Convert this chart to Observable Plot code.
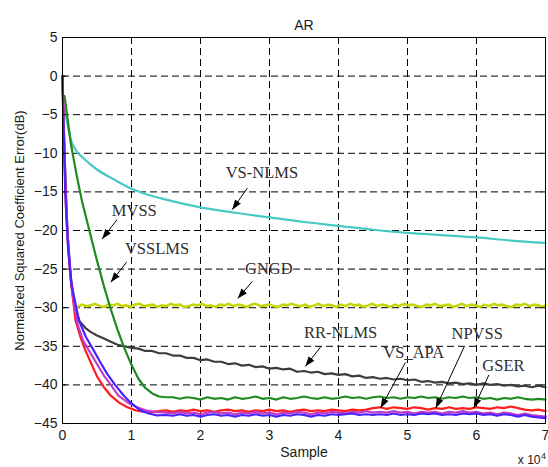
<!DOCTYPE html>
<html>
<head>
<meta charset="utf-8">
<script src="https://cdn.jsdelivr.net/npm/d3@7"></script>
<script src="https://cdn.jsdelivr.net/npm/@observablehq/plot@0.6"></script>
<style>
  html, body { margin: 0; padding: 0; background: #ffffff; }
</style>
</head>
<body>
<div id="chart"></div>
<script>
// ---- tick values ----
const xTicks = [0, 1, 2, 3, 4, 5, 6, 7];
const yTicks = [5, 0, -5, -10, -15, -20, -25, -30, -35, -40, -45];

// ---- series: [sample (x 10^4), NSCE (dB)] ----
const vsNlms = [[0.04,-4.5],[0.08,-6.6],[0.12,-8.2],[0.2,-9.7],[0.3,-10.6],[0.4,-11.4],[0.5,-12.1],[0.75,-13.4],[1.0,-14.6],[1.25,-15.4],[1.5,-16.0],[2.0,-17.0],[2.5,-17.7],[3.0,-18.3],[3.5,-18.9],[4.0,-19.4],[4.5,-19.9],[5.0,-20.3],[5.5,-20.6],[6.0,-20.9],[6.5,-21.3],[7.0,-21.6]];

const gngd = [[0.22,-29.9],[0.28,-29.6],[0.35,-29.8],[0.41,-29.7],[0.47,-29.5],[0.55,-29.8],[0.61,-29.9],[0.66,-29.6],[0.74,-29.7],[0.8,-29.5],[0.86,-29.8],[0.93,-29.7],[0.99,-29.9],[1.05,-29.6],[1.12,-29.5],[1.18,-29.8],[1.25,-29.7],[1.31,-29.6],[1.37,-29.9],[1.44,-29.7],[1.5,-29.8],[1.57,-29.5],[1.63,-29.7],[1.7,-29.6],[1.76,-29.9],[1.83,-29.8],[1.89,-29.6],[1.96,-29.7],[2.02,-29.5],[2.09,-29.8],[2.15,-29.7],[2.22,-29.9],[2.28,-29.6],[2.35,-29.7],[2.41,-29.5],[2.48,-29.8],[2.54,-29.6],[2.61,-29.7],[2.67,-29.9],[2.74,-29.6],[2.8,-29.5],[2.87,-29.8],[2.93,-29.7],[3.0,-29.6],[3.06,-29.8],[3.13,-29.9],[3.19,-29.6],[3.26,-29.7],[3.32,-29.5],[3.39,-29.7],[3.45,-29.8],[3.52,-29.6],[3.58,-29.9],[3.65,-29.7],[3.71,-29.5],[3.78,-29.8],[3.84,-29.6],[3.91,-29.7],[3.97,-29.9],[4.04,-29.6],[4.1,-29.8],[4.17,-29.5],[4.23,-29.7],[4.3,-29.6],[4.36,-29.9],[4.43,-29.7],[4.49,-29.5],[4.56,-29.8],[4.62,-29.6],[4.69,-29.7],[4.75,-29.9],[4.82,-29.6],[4.88,-29.8],[4.95,-29.5],[5.01,-29.7],[5.08,-29.6],[5.14,-29.8],[5.21,-29.9],[5.27,-29.6],[5.34,-29.7],[5.4,-29.5],[5.47,-29.8],[5.53,-29.7],[5.6,-29.6],[5.66,-29.9],[5.73,-29.7],[5.79,-29.5],[5.86,-29.8],[5.92,-29.6],[5.99,-29.7],[6.05,-29.9],[6.12,-29.6],[6.18,-29.8],[6.25,-29.5],[6.31,-29.7],[6.38,-29.6],[6.44,-29.8],[6.51,-29.9],[6.57,-29.6],[6.64,-29.7],[6.7,-29.5],[6.77,-29.8],[6.83,-29.6],[6.9,-29.7],[6.96,-29.9],[7.0,-29.7]];

const rrNlms = [[0,0],[0.03,-10],[0.07,-20],[0.12,-26],[0.18,-30],[0.25,-31.8],[0.33,-32.6],[0.4,-33.1],[0.5,-33.6],[0.6,-34.0],[0.7,-34.4],[0.8,-34.8],[0.9,-35.0],[1.0,-35.2],[1.1,-35.3],[1.2,-35.6],[1.3,-35.6],[1.4,-35.9],[1.5,-35.9],[1.6,-36.2],[1.7,-36.2],[1.8,-36.5],[1.9,-36.5],[2.0,-36.8],[2.1,-36.7],[2.2,-37.0],[2.3,-37.0],[2.4,-37.3],[2.5,-37.2],[2.6,-37.5],[2.7,-37.4],[2.8,-37.7],[2.9,-37.6],[3.0,-37.9],[3.1,-37.8],[3.2,-38.0],[3.3,-37.9],[3.4,-38.3],[3.5,-38.2],[3.6,-38.4],[3.7,-38.3],[3.8,-38.6],[3.9,-38.5],[4.0,-38.7],[4.1,-38.6],[4.2,-38.9],[4.3,-38.8],[4.4,-39.1],[4.5,-39.0],[4.6,-39.2],[4.7,-39.1],[4.8,-39.3],[4.9,-39.2],[5.0,-39.4],[5.1,-39.3],[5.2,-39.6],[5.3,-39.5],[5.4,-39.7],[5.5,-39.6],[5.6,-39.8],[5.7,-39.7],[5.8,-39.9],[5.9,-39.8],[6.0,-40.0],[6.1,-39.8],[6.2,-40.0],[6.3,-39.9],[6.4,-40.1],[6.5,-40.0],[6.6,-40.2],[6.7,-40.1],[6.8,-40.3],[6.9,-40.1],[7.0,-40.3]];

const mvss = [[0.03,-2.6],[0.06,-4.6],[0.12,-8.7],[0.2,-12.6],[0.28,-16.1],[0.4,-20.4],[0.5,-23.9],[0.6,-27.2],[0.7,-30.2],[0.8,-32.9],[0.89,-35.1],[1.0,-37.4],[1.1,-39.2],[1.2,-40.4],[1.3,-41.1],[1.4,-41.5],[1.5,-41.6],[1.6,-41.6],[1.7,-41.8],[1.8,-41.6],[1.9,-41.7],[2.0,-41.9],[2.1,-41.6],[2.2,-41.8],[2.3,-41.7],[2.4,-41.9],[2.5,-41.6],[2.6,-41.8],[2.7,-41.7],[2.8,-41.5],[2.9,-41.8],[3.0,-41.7],[3.1,-41.9],[3.2,-41.6],[3.3,-41.8],[3.4,-41.7],[3.5,-41.5],[3.6,-41.7],[3.7,-41.8],[3.8,-41.6],[3.9,-41.8],[4.0,-41.7],[4.1,-41.5],[4.2,-41.7],[4.3,-41.6],[4.4,-41.8],[4.5,-41.6],[4.6,-41.5],[4.7,-41.7],[4.8,-41.6],[4.9,-41.8],[5.0,-41.6],[5.1,-41.7],[5.2,-41.5],[5.3,-41.7],[5.4,-41.6],[5.5,-41.8],[5.6,-41.6],[5.7,-41.7],[5.8,-41.5],[5.9,-41.7],[6.0,-41.6],[6.1,-41.8],[6.2,-41.7],[6.3,-41.9],[6.4,-41.7],[6.5,-41.8],[6.6,-41.6],[6.7,-41.8],[6.8,-41.9],[6.9,-41.8],[7.0,-41.9]];

const redCurve = [[0,0],[0.02,-8],[0.05,-17],[0.08,-22],[0.12,-26.5],[0.19,-31.7],[0.26,-33.8],[0.33,-35.5],[0.4,-36.9],[0.5,-38.9],[0.6,-40.3],[0.7,-41.4],[0.82,-42.3],[0.94,-42.9],[1.06,-43.3],[1.18,-43.5],[1.3,-43.5],[1.4,-43.4],[1.5,-43.3],[1.6,-43.5],[1.7,-43.3],[1.8,-43.4],[1.9,-43.2],[2.0,-43.4],[2.1,-43.3],[2.2,-43.5],[2.3,-43.3],[2.4,-43.2],[2.5,-43.4],[2.6,-43.3],[2.7,-43.5],[2.8,-43.3],[2.9,-43.4],[3.0,-43.2],[3.1,-43.4],[3.2,-43.3],[3.3,-43.5],[3.4,-43.3],[3.5,-43.2],[3.6,-43.4],[3.7,-43.3],[3.8,-43.4],[3.9,-43.2],[4.0,-43.3],[4.1,-43.4],[4.2,-43.2],[4.3,-43.3],[4.4,-43.2],[4.5,-43.0],[4.6,-42.9],[4.7,-43.1],[4.8,-42.9],[4.9,-43.0],[5.0,-43.1],[5.1,-42.9],[5.2,-43.0],[5.3,-43.2],[5.4,-43.0],[5.5,-43.1],[5.6,-42.9],[5.7,-43.1],[5.8,-43.0],[5.9,-43.1],[6.0,-42.9],[6.1,-43.0],[6.2,-43.1],[6.3,-42.9],[6.4,-43.0],[6.5,-42.8],[6.6,-43.0],[6.7,-43.2],[6.8,-43.3],[6.9,-43.2],[7.0,-43.4]];

const magentaCurve = [[0,0],[0.02,-7],[0.05,-16],[0.09,-23],[0.14,-28],[0.22,-32.2],[0.3,-34.3],[0.38,-35.5],[0.5,-37.3],[0.6,-38.8],[0.7,-40.0],[0.81,-41.4],[0.95,-42.3],[1.08,-42.9],[1.2,-43.3],[1.35,-43.5],[1.5,-43.6],[1.6,-43.7],[1.7,-43.5],[1.8,-43.7],[1.9,-43.6],[2.0,-43.8],[2.1,-43.6],[2.2,-43.5],[2.3,-43.7],[2.4,-43.6],[2.5,-43.8],[2.6,-43.6],[2.7,-43.7],[2.8,-43.5],[2.9,-43.7],[3.0,-43.6],[3.1,-43.8],[3.2,-43.6],[3.3,-43.7],[3.4,-43.5],[3.5,-43.6],[3.6,-43.8],[3.7,-43.6],[3.8,-43.7],[3.9,-43.5],[4.0,-43.6],[4.1,-43.7],[4.2,-43.5],[4.3,-43.6],[4.4,-43.4],[4.5,-43.6],[4.6,-43.5],[4.7,-43.6],[4.8,-43.4],[4.9,-43.6],[5.0,-43.5],[5.1,-43.7],[5.2,-43.5],[5.3,-43.6],[5.4,-43.5],[5.5,-43.7],[5.6,-43.5],[5.7,-43.6],[5.8,-43.4],[5.9,-43.6],[6.0,-43.5],[6.1,-43.7],[6.2,-43.6],[6.3,-43.8],[6.4,-43.6],[6.5,-43.7],[6.6,-43.9],[6.7,-43.7],[6.8,-43.9],[6.9,-44.0],[7.0,-44.1]];

const blueCurve = [[0,0],[0.01,-5],[0.04,-15],[0.08,-22],[0.13,-27],[0.24,-31.7],[0.34,-33.8],[0.45,-35.5],[0.55,-37.1],[0.65,-38.6],[0.77,-40.1],[0.89,-41.4],[1.0,-42.4],[1.13,-43.3],[1.25,-43.7],[1.37,-43.95],[1.5,-43.9],[1.6,-44.0],[1.7,-43.8],[1.8,-44.0],[1.9,-43.9],[2.0,-44.1],[2.1,-43.9],[2.2,-43.8],[2.3,-44.0],[2.4,-43.9],[2.5,-44.1],[2.6,-43.9],[2.7,-44.0],[2.8,-43.8],[2.9,-44.0],[3.0,-43.9],[3.1,-44.1],[3.2,-43.9],[3.3,-44.0],[3.4,-43.8],[3.5,-43.9],[3.6,-44.1],[3.7,-43.9],[3.8,-44.0],[3.9,-43.8],[4.0,-43.9],[4.1,-43.8],[4.2,-43.7],[4.3,-43.9],[4.4,-43.8],[4.5,-43.9],[4.6,-43.8],[4.7,-43.9],[4.8,-43.7],[4.9,-43.9],[5.0,-43.8],[5.1,-43.9],[5.2,-43.7],[5.3,-43.8],[5.4,-43.7],[5.5,-43.9],[5.6,-43.8],[5.7,-43.9],[5.8,-43.7],[5.9,-43.8],[6.0,-43.7],[6.1,-43.9],[6.2,-43.8],[6.3,-44.0],[6.4,-43.8],[6.5,-43.9],[6.6,-44.1],[6.7,-43.9],[6.8,-44.1],[6.9,-44.2],[7.0,-44.3]];

// ---- annotation labels and arrows (tail -> tip) ----
const labelNames = ["VS-NLMS", "MVSS", "VSSLMS", "GNGD", "RR-NLMS", "VS_APA", "NPVSS", "GSER"];
const labelAt = [[2.89,-12.5],[1.04,-17.4],[1.37,-22.3],[2.99,-24.9],[4.03,-33.3],[5.09,-35.8],[6.01,-33.4],[6.39,-37.5]];
const arrowFrom = [[2.68,-14.5],[0.79,-18.6],[0.93,-24.1],[2.75,-26.6],[3.74,-35.1],[4.97,-37.1],[5.82,-35.1],[6.18,-38.7]];
const arrowTo = [[2.46,-17.3],[0.575,-21.1],[0.70,-26.7],[2.54,-28.8],[3.52,-37.6],[4.61,-43.0],[5.41,-43.0],[5.96,-43.0]];

const labels = labelNames.map((name, i) => ({name, x: labelAt[i][0], y: labelAt[i][1]}));
const arrows = labelNames.map((name, i) => ({x1: arrowFrom[i][0], y1: arrowFrom[i][1], x2: arrowTo[i][0], y2: arrowTo[i][1]}));

function arrowHead(color) {
  const m = d3.create("svg:marker")
    .attr("viewBox", "-10 -4 10 8")
    .attr("markerWidth", 10)
    .attr("markerHeight", 8)
    .attr("markerUnits", "userSpaceOnUse")
    .attr("orient", "auto")
    .attr("fill", "black")
    .attr("stroke", "none");
  m.append("path").attr("d", "M0,0L-10,-3.6L-10,3.6Z");
  return m.node();
}

const X = d => d[0], Y = d => d[1];
const sw = 2.2;

const chart = Plot.plot({
  width: 548,
  height: 467,
  marginTop: 37,
  marginBottom: 44,
  marginLeft: 62,
  marginRight: 3,
  style: {fontFamily: "'Liberation Sans', Arial, sans-serif", fontSize: "13px", background: "#ffffff", color: "#1a1a1a"},
  x: {domain: [0, 7]},
  y: {domain: [-45, 5]},
  marks: [
    Plot.gridX(xTicks, {stroke: "black", strokeOpacity: 1, strokeWidth: 1, strokeDasharray: "7,4"}),
    Plot.gridY(yTicks, {stroke: "black", strokeOpacity: 1, strokeWidth: 1, strokeDasharray: "7,4"}),
    Plot.line(vsNlms, {x: X, y: Y, stroke: "#48c9c2", strokeWidth: sw, curve: "monotone-x"}),
    Plot.line(gngd, {x: X, y: Y, stroke: "#c6d408", strokeWidth: 2.6}),
    Plot.line(rrNlms, {x: X, y: Y, stroke: "#3d3d3d", strokeWidth: sw}),
    Plot.line(mvss, {x: X, y: Y, stroke: "#1f8a1f", strokeWidth: sw}),
    Plot.line(redCurve, {x: X, y: Y, stroke: "#ff1e1e", strokeWidth: sw}),
    Plot.line(magentaCurve, {x: X, y: Y, stroke: "#c23cc8", strokeWidth: sw}),
    Plot.line(blueCurve, {x: X, y: Y, stroke: "#4a22ff", strokeWidth: sw}),
    // inward ticks (MATLAB style)
    Plot.ruleX(xTicks, {y1: -45, y2: -44.45, stroke: "black"}),
    Plot.ruleX(xTicks, {y1: 5, y2: 4.45, stroke: "black"}),
    Plot.ruleY(yTicks, {x1: 0, x2: 0.06, stroke: "black"}),
    Plot.ruleY(yTicks, {x1: 7, x2: 6.94, stroke: "black"}),
    Plot.axisX(xTicks, {tickSize: 0, tickPadding: 7, label: null, fontSize: 14}),
    Plot.axisY(yTicks, {tickSize: 0, tickPadding: 5, label: null, fontSize: 14}),
    Plot.frame({stroke: "black", strokeWidth: 1}),
    // annotations
    Plot.link(arrows, {x1: "x1", y1: "y1", x2: "x2", y2: "y2", stroke: "black", strokeWidth: 1, markerEnd: arrowHead}),
    Plot.text(labels, {x: "x", y: "y", text: "name", fontFamily: "'Liberation Serif', 'Times New Roman', serif", fontSize: 16.5, fill: "#2e2e2e"}),
    // titles
    Plot.text(["AR"], {frameAnchor: "top", dy: -17, fontSize: 14, fill: "#1a1a1a"}),
    Plot.text(["Sample"], {frameAnchor: "bottom", dy: 33, fontSize: 14, fill: "#1a1a1a"}),
    Plot.text(["Normalized Squared Coefficient Error(dB)"], {frameAnchor: "left", dx: -43, rotate: -90, textAnchor: "middle", fontSize: 13, fill: "#1a1a1a"}),
    Plot.text(["x 10"], {frameAnchor: "bottom-right", dx: -5, dy: 40, textAnchor: "end", fontSize: 12, fill: "#1a1a1a"}),
    Plot.text(["4"], {frameAnchor: "bottom-right", dx: -2, dy: 35, textAnchor: "middle", fontSize: 9, fill: "#1a1a1a"})
  ]
});

document.getElementById("chart").appendChild(chart);
</script>
</body>
</html>
